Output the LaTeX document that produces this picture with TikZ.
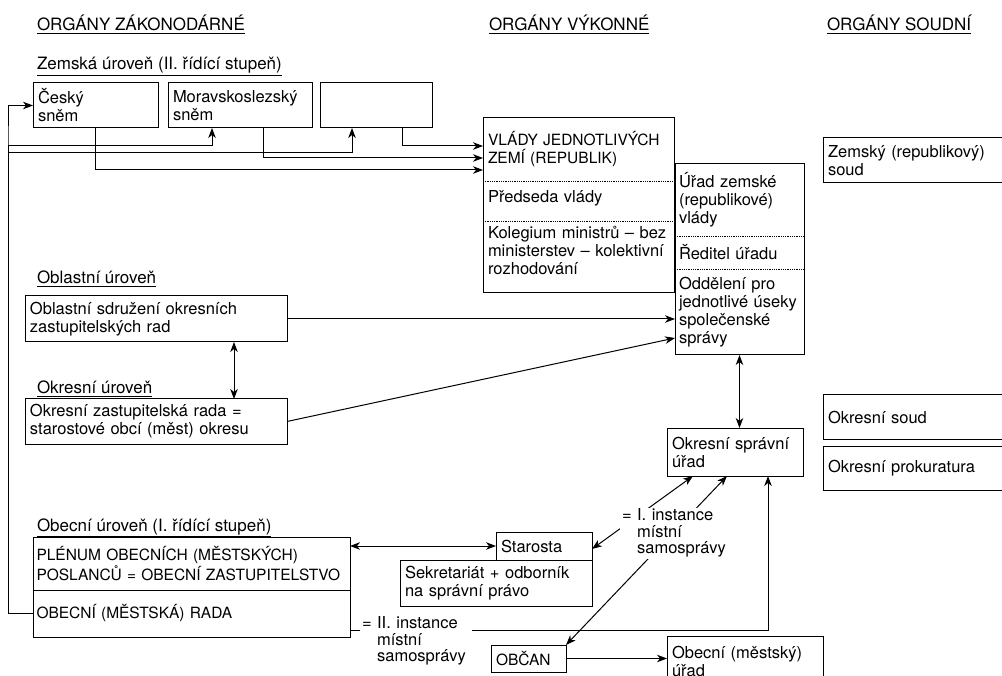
\documentclass[tikz,border=0pt]{standalone}
\usepackage{fontspec}
\setmainfont{TeX Gyre Heros}
\usetikzlibrary{arrows.meta}
\begin{document}
\begin{tikzpicture}[x=1pt,y=-1pt,line width=1pt,
  every node/.style={font=\fontsize{16.5}{18}\selectfont,inner sep=0pt,outer sep=0pt},
  caps/.style={font=\fontsize{15.5}{18}\selectfont},
  box/.style={draw,rectangle,inner xsep=5pt,align=left},
  part/.style={rectangle,inner xsep=5pt,align=left},
  bx/.style n args={3}{minimum width=#1pt,minimum height=#2pt,text width=#3pt},
  lbl/.style={anchor=base west,font=\fontsize{17}{20}\selectfont},
  inst/.style={fill=white,inner xsep=2pt,align=left,font=\fontsize{16.5}{16.3}\selectfont},
  divider/.style={line width=0.8pt,densely dotted},
  tip/.tip={Stealth[length=10pt,width=7.5pt,inset=3pt]},
  arr/.style={-tip},
  darr/.style={tip-tip}]
\useasboundingbox (0,0) rectangle (1002,676);
\clip (0,0) rectangle (1002,676);

% headers
\node[lbl] (h1) at (37,31) {\underline{ORGÁNY ZÁKONODÁRNÉ}};
\node[lbl] (h2) at (489,31) {\underline{ORGÁNY VÝKONNÉ}};
\node[lbl] (h3) at (827,31) {\underline{ORGÁNY SOUDNÍ}};
\node[lbl] (lz) at (37,70) {\underline{Zemská úroveň (II. řídící stupeň)}};
\node[lbl] (lobl) at (37,284) {\underline{Oblastní úroveň}};
\node[lbl] (lokr) at (37,394) {\underline{Okresní úroveň}};
\node[lbl] (lobe) at (37,531) {\underline{Obecní úroveň (I. řídící stupeň)}};

% legislative
\node[box,bx={125}{45}{115}] (cesky) at (95.5,105.5) {Český\\sněm};
\node[box,bx={144}{45}{134}] (morav) at (240,105.5) {Moravskoslezský\\sněm};
\node[box,minimum width=112pt,minimum height=45pt] (empty) at (376,105.5) {};
\node[box,bx={262}{46}{252}] (oblast) at (156,319) {Oblastní sdružení okresních\\zastupitelských rad};
\node[box,bx={262}{45}{252}] (okres) at (156,421.5) {Okresní zastupitelská rada =\\starostové obcí (měst) okresu};
\node[box,caps,bx={317}{53}{310},inner xsep=3.5pt] (plen) at (191.5,563.5) {PLÉNUM OBECNÍCH (MĚSTSKÝCH)\\POSLANCŮ = OBECNÍ ZASTUPITELSTVO};
\node[box,caps,bx={317}{47}{310},inner xsep=3.5pt] (rada) at (191.5,613.5) {OBECNÍ (MĚSTSKÁ) RADA};

% executive
\node[box,minimum width=191pt,minimum height=175pt] (vlady) at (578.5,205.5) {};
\node[part,caps,bx={191}{63}{181}] (vlady1) at (578.5,149.5) {VLÁDY JEDNOTLIVÝCH\\ZEMÍ (REPUBLIK)};
\node[part,bx={191}{34}{181}] (vlady2) at (578.5,198) {Předseda vlády};
\node[part,bx={191}{59}{181}] (vlady3) at (578.5,250.5) {Kolegium ministrů – bez\\ministerstev – kolektivní\\rozhodování};
\draw[divider] (vlady.west |- vlady1.south) -- (vlady.east |- vlady1.south);
\draw[divider] (vlady.west |- vlady3.north) -- (vlady.east |- vlady3.north);

\node[box,minimum width=129pt,minimum height=191pt,fill=white] (urad) at (739.5,259.5) {};
\node[part,bx={129}{72}{121}] (urad1) at (739.5,200) {Úřad zemské\\(republikové)\\vlády};
\node[part,bx={129}{33}{121}] (urad2) at (739.5,252.5) {Ředitel úřadu};
\node[part,bx={129}{86}{121},inner xsep=4pt] (urad3) at (739.5,312) {Oddělení pro\\jednotlivé úseky\\společenské\\správy};
\draw[divider] (urad.west |- urad1.south) -- (urad.east |- urad1.south);
\draw[divider] (urad.west |- urad3.north) -- (urad.east |- urad3.north);

\node[box,bx={136}{48}{126}] (osu) at (735,452) {Okresní správní\\úřad};
\node[box,bx={96}{28}{86}] (starosta) at (544,546) {Starosta};
\node[box,bx={192}{46}{182}] (sekret) at (496,583) {Sekretariát + odborník\\na správní právo};
\node[box,caps,bx={75}{27}{65}] (obcan) at (528.5,658.5) {OBČAN};
\node[box,bx={156}{51}{146}] (ourad) at (745,661.5) {Obecní (městský)\\úřad};

% judicial
\node[box,bx={189}{45}{179}] (zsoud) at (917.5,160.5) {Zemský (republikový)\\soud};
\node[box,bx={189}{44}{179}] (osoud) at (917.5,417) {Okresní soud};
\node[box,bx={189}{44}{179}] (oprok) at (917.5,468) {Okresní prokuratura};

% connectors
\coordinate (busA) at (8,146);
\coordinate (busB) at (8,153);
\draw[arr] (rada.west) -| (busA) |- (cesky.west);
\draw[arr] (rada.west) -| (busA) -| ([xshift=-28pt]morav.south);
\draw[arr] (rada.west) -| (busB) -| ([xshift=-24pt]empty.south);
\draw[arr] (cesky.south) |- ([yshift=-20.5pt]vlady1.west);
\draw[arr] ([xshift=23pt]morav.south) |- ([yshift=-8.5pt]vlady1.west);
\draw[arr] ([xshift=26pt]empty.south) |- ([yshift=3.5pt]vlady1.west);

\draw[arr] (oblast.east) -- (oblast.east -| urad.west);
\draw[arr] (okres.east) -- ([yshift=-26pt]urad3.west);
\draw[darr] ([xshift=78pt]oblast.south) -- ([xshift=78pt]okres.north);
\draw[darr] (urad.south) -- (urad.south |- osu.north);

\draw[darr] (plen.east |- starosta.west) -- (starosta.west);
\draw[darr] ([yshift=-3pt]starosta.east) -- ([xshift=-42pt]osu.south);
\draw[darr] (obcan.north east) -- ([xshift=-8pt]osu.south);
\draw[arr] ([yshift=-16.5pt]rada.east) -| ([xshift=33pt]osu.south);
\draw[arr] (obcan.east) -- (obcan.east -| ourad.west);

\node[inst,text width=94pt,minimum height=51pt] (inst1) at (669,533) {\mbox{= I. instance}\\\mbox{\phantom{= }místní}\\\mbox{\phantom{= }samosprávy}};
\node[inst,text width=108pt,minimum height=50pt] (inst2) at (416,641) {\mbox{= II. instance}\\\mbox{\phantom{= }místní}\\\mbox{\phantom{= }samosprávy}};
\end{tikzpicture}
\end{document}
